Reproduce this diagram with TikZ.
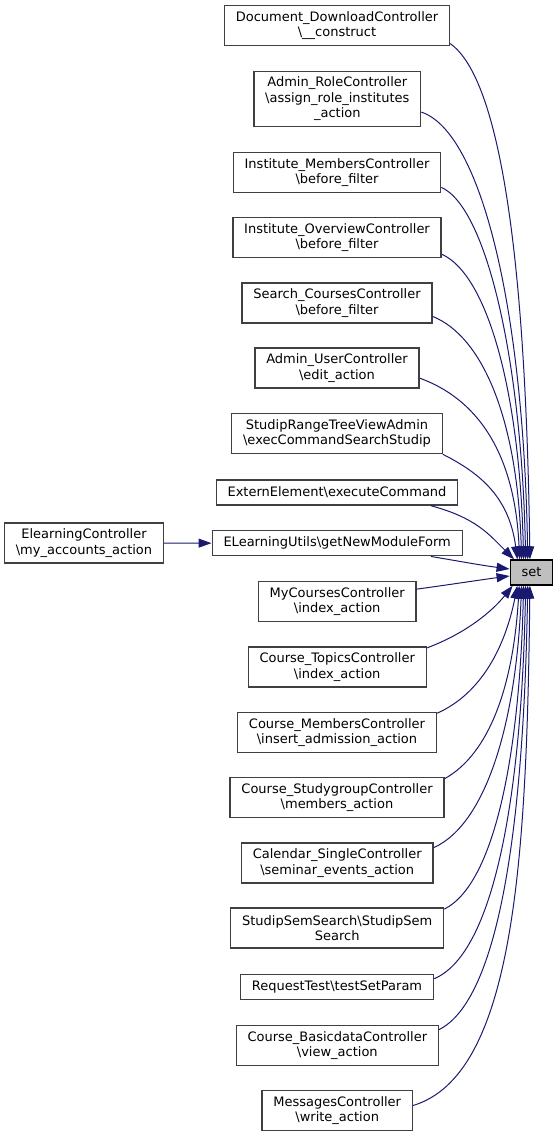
\documentclass[tikz,border=0pt]{standalone}
\usepackage{fontspec}
\setmainfont{DejaVu Sans}
\usepackage{xcolor}
\usetikzlibrary{arrows.meta}

\definecolor{edgeblue}{HTML}{191970}
\definecolor{boxgray}{HTML}{404040}
\definecolor{rootfill}{HTML}{BFBFBF}

\tikzset{
  fnbox/.style={draw=boxgray, line width=1pt, fill=white, align=center,
    font=\fontsize{9.75pt}{11.5pt}\selectfont, inner xsep=8.5pt, inner ysep=2pt,
    minimum height=30pt},
  fnline/.style={fnbox, minimum height=18.75pt},
  fnroot/.style={fnline, draw=black, fill=rootfill},
  callarrow/.style={draw=edgeblue, line width=0.75pt,
    -{Triangle[length=9.75pt,width=6.75pt]}}
}

\begin{document}
\begin{tikzpicture}[x=0.75pt,y=-0.75pt]
  \useasboundingbox (0,0) rectangle (559,1137);

  % callers
  \node[fnbox] (doc) at (337,25.7) {Document\_DownloadController\\\textbackslash\_\_construct};
  \node[fnbox, minimum height=41.25pt] (role) at (337.3,98.8) {Admin\_RoleController\\\textbackslash assign\_role\_institutes\\\_action};
  \node[fnbox] (imem) at (337,172.7) {Institute\_MembersController\\\textbackslash before\_filter};
  \node[fnbox] (iov) at (337,237.7) {Institute\_OverviewController\\\textbackslash before\_filter};
  \node[fnbox] (search) at (337,303) {Search\_CoursesController\\\textbackslash before\_filter};
  \node[fnbox] (auser) at (337,368) {Admin\_UserController\\\textbackslash edit\_action};
  \node[fnbox] (range) at (337,433.7) {StudipRangeTreeViewAdmin\\\textbackslash execCommandSearchStudip};
  \node[fnline] (extern) at (337,492.5) {ExternElement\textbackslash executeCommand};
  \node[fnline] (elu) at (337.2,543.3) {ELearningUtils\textbackslash getNewModuleForm};
  \node[fnbox] (elctrl) at (84,543) {ElearningController\\\textbackslash my\_accounts\_action};
  \node[fnbox] (mycourses) at (337.2,601.7) {MyCoursesController\\\textbackslash index\_action};
  \node[fnbox] (topics) at (337.2,667) {Course\_TopicsController\\\textbackslash index\_action};
  \node[fnbox] (cmem) at (337,732.7) {Course\_MembersController\\\textbackslash insert\_admission\_action};
  \node[fnbox] (sgroup) at (337,797.7) {Course\_StudygroupController\\\textbackslash members\_action};
  \node[fnbox] (calendar) at (337.2,863) {Calendar\_SingleController\\\textbackslash seminar\_events\_action};
  \node[fnbox] (semsearch) at (337.2,928) {StudipSemSearch\textbackslash StudipSem\\Search};
  \node[fnline] (reqtest) at (337,987.2) {RequestTest\textbackslash testSetParam};
  \node[fnbox] (basicdata) at (337.3,1045.7) {Course\_BasicdataController\\\textbackslash view\_action};
  \node[fnbox] (messages) at (337.2,1110.8) {MessagesController\\\textbackslash write\_action};

  % the called function
  \node[fnroot] (setfn) at (531.5,572.5) {set};

  % calls above set
  \draw[callarrow] (doc.-9) .. controls +(50,35) and +(-4,-300) .. (setfn.97);
  \draw[callarrow] (role.-9) .. controls +(60,20) and +(-4,-250) .. (setfn.106);
  \draw[callarrow] (imem.-8) .. controls +(45,20) and +(-4,-200) .. (setfn.114);
  \draw[callarrow] (iov.-9) .. controls +(45,20) and +(-4,-170) .. (setfn.121);
  \draw[callarrow] (search.-8) .. controls +(50,20) and +(-4,-140) .. (setfn.127);
  \draw[callarrow] (auser.-7) .. controls +(55,20) and +(-5,-110) .. (setfn.132);
  \draw[callarrow] (range.south east) .. controls +(40,20) and +(-8,-60) .. (setfn.137);
  \draw[callarrow] (extern.-8) .. controls +(45,12) and +(-25,-25) .. (setfn.143);
  % straight into set
  \draw[callarrow] (elctrl) -- (elu);
  \draw[callarrow] (elu.-8) .. controls +(30,5) and +(-30,-4) .. (setfn.171);
  \draw[callarrow] (mycourses.9) .. controls +(30,-4) and +(-30,4) .. (setfn.189);
  % calls below set
  \draw[callarrow] (topics.12) .. controls +(40,-15) and +(-20,25) .. (setfn.215);
  \draw[callarrow] (cmem.11) .. controls +(45,-20) and +(-12,60) .. (setfn.223);
  \draw[callarrow] (sgroup.10) .. controls +(45,-25) and +(-6,100) .. (setfn.227);
  \draw[callarrow] (calendar.9) .. controls +(55,-25) and +(-5,130) .. (setfn.233);
  \draw[callarrow] (semsearch.10) .. controls +(50,-25) and +(-4,170) .. (setfn.239);
  \draw[callarrow] (reqtest.5) .. controls +(60,-25) and +(-4,210) .. (setfn.246);
  \draw[callarrow] (basicdata.9) .. controls +(60,-30) and +(-4,240) .. (setfn.254);
  \draw[callarrow] (messages.4) .. controls +(100,-30) and +(-3,280) .. (setfn.263);
\end{tikzpicture}
\end{document}
